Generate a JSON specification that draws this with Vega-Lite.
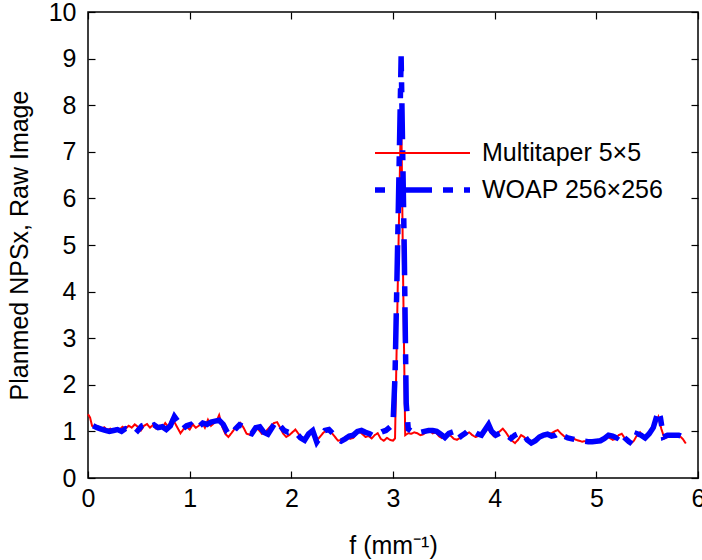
{
  "$schema": "https://vega.github.io/schema/vega-lite/v6.json",
  "width": 610,
  "height": 466,
  "autosize": {"type": "none"},
  "padding": {"left": 88, "top": 12, "right": 4, "bottom": 82},
  "background": "white",
  "config": {
    "font": "Liberation Sans",
    "view": {"stroke": "#000", "strokeWidth": 1.5},
    "axis": {
      "grid": false,
      "domain": false,
      "labelColor": "#000",
      "labelFont": "Liberation Sans",
      "labelFontSize": 25,
      "titleFont": "Liberation Sans",
      "titleFontSize": 25,
      "titleFontWeight": "normal",
      "titleColor": "#000",
      "labelOverlap": false,
      "labelFlush": false
    }
  },
  "data": {"values": [
    {"s":"Multitaper 5×5","f":0.00,"v":1.37},{"s":"Multitaper 5×5","f":0.02,"v":1.30},{"s":"Multitaper 5×5","f":0.04,"v":1.12},{"s":"Multitaper 5×5","f":0.07,"v":1.08},{"s":"Multitaper 5×5","f":0.10,"v":1.10},{"s":"Multitaper 5×5","f":0.13,"v":1.05},{"s":"Multitaper 5×5","f":0.16,"v":1.09},{"s":"Multitaper 5×5","f":0.19,"v":1.03},{"s":"Multitaper 5×5","f":0.22,"v":1.06},{"s":"Multitaper 5×5","f":0.25,"v":1.02},{"s":"Multitaper 5×5","f":0.28,"v":1.07},{"s":"Multitaper 5×5","f":0.31,"v":1.04},{"s":"Multitaper 5×5","f":0.34,"v":1.10},{"s":"Multitaper 5×5","f":0.37,"v":1.06},{"s":"Multitaper 5×5","f":0.40,"v":1.12},{"s":"Multitaper 5×5","f":0.43,"v":1.08},{"s":"Multitaper 5×5","f":0.46,"v":1.15},{"s":"Multitaper 5×5","f":0.49,"v":1.10},{"s":"Multitaper 5×5","f":0.52,"v":1.02},{"s":"Multitaper 5×5","f":0.55,"v":1.12},{"s":"Multitaper 5×5","f":0.58,"v":1.16},{"s":"Multitaper 5×5","f":0.61,"v":1.08},{"s":"Multitaper 5×5","f":0.64,"v":1.14},{"s":"Multitaper 5×5","f":0.67,"v":1.06},{"s":"Multitaper 5×5","f":0.70,"v":1.12},{"s":"Multitaper 5×5","f":0.73,"v":1.08},{"s":"Multitaper 5×5","f":0.76,"v":1.18},{"s":"Multitaper 5×5","f":0.79,"v":1.10},{"s":"Multitaper 5×5","f":0.82,"v":1.25},{"s":"Multitaper 5×5","f":0.85,"v":1.20},{"s":"Multitaper 5×5","f":0.88,"v":1.08},{"s":"Multitaper 5×5","f":0.91,"v":0.96},{"s":"Multitaper 5×5","f":0.94,"v":1.05},{"s":"Multitaper 5×5","f":0.97,"v":1.10},{"s":"Multitaper 5×5","f":1.00,"v":1.04},{"s":"Multitaper 5×5","f":1.03,"v":1.15},{"s":"Multitaper 5×5","f":1.06,"v":1.08},{"s":"Multitaper 5×5","f":1.09,"v":1.12},{"s":"Multitaper 5×5","f":1.12,"v":1.20},{"s":"Multitaper 5×5","f":1.15,"v":1.08},{"s":"Multitaper 5×5","f":1.18,"v":1.25},{"s":"Multitaper 5×5","f":1.21,"v":1.12},{"s":"Multitaper 5×5","f":1.24,"v":1.18},{"s":"Multitaper 5×5","f":1.27,"v":1.25},{"s":"Multitaper 5×5","f":1.29,"v":1.35},{"s":"Multitaper 5×5","f":1.32,"v":1.10},{"s":"Multitaper 5×5","f":1.35,"v":0.95},{"s":"Multitaper 5×5","f":1.38,"v":0.88},{"s":"Multitaper 5×5","f":1.41,"v":0.96},{"s":"Multitaper 5×5","f":1.44,"v":1.05},{"s":"Multitaper 5×5","f":1.47,"v":1.10},{"s":"Multitaper 5×5","f":1.50,"v":1.18},{"s":"Multitaper 5×5","f":1.53,"v":1.08},{"s":"Multitaper 5×5","f":1.56,"v":0.95},{"s":"Multitaper 5×5","f":1.59,"v":0.93},{"s":"Multitaper 5×5","f":1.62,"v":1.02},{"s":"Multitaper 5×5","f":1.65,"v":1.08},{"s":"Multitaper 5×5","f":1.68,"v":1.03},{"s":"Multitaper 5×5","f":1.71,"v":0.95},{"s":"Multitaper 5×5","f":1.74,"v":0.98},{"s":"Multitaper 5×5","f":1.77,"v":1.05},{"s":"Multitaper 5×5","f":1.80,"v":1.12},{"s":"Multitaper 5×5","f":1.83,"v":1.18},{"s":"Multitaper 5×5","f":1.86,"v":1.20},{"s":"Multitaper 5×5","f":1.89,"v":1.08},{"s":"Multitaper 5×5","f":1.92,"v":0.95},{"s":"Multitaper 5×5","f":1.95,"v":0.88},{"s":"Multitaper 5×5","f":1.98,"v":0.92},{"s":"Multitaper 5×5","f":2.01,"v":0.98},{"s":"Multitaper 5×5","f":2.04,"v":1.04},{"s":"Multitaper 5×5","f":2.07,"v":0.95},{"s":"Multitaper 5×5","f":2.10,"v":0.85},{"s":"Multitaper 5×5","f":2.13,"v":0.82},{"s":"Multitaper 5×5","f":2.16,"v":0.95},{"s":"Multitaper 5×5","f":2.19,"v":1.02},{"s":"Multitaper 5×5","f":2.22,"v":0.90},{"s":"Multitaper 5×5","f":2.25,"v":0.80},{"s":"Multitaper 5×5","f":2.28,"v":0.88},{"s":"Multitaper 5×5","f":2.31,"v":0.96},{"s":"Multitaper 5×5","f":2.34,"v":1.02},{"s":"Multitaper 5×5","f":2.37,"v":1.00},{"s":"Multitaper 5×5","f":2.40,"v":0.96},{"s":"Multitaper 5×5","f":2.43,"v":0.88},{"s":"Multitaper 5×5","f":2.46,"v":0.80},{"s":"Multitaper 5×5","f":2.49,"v":0.82},{"s":"Multitaper 5×5","f":2.52,"v":0.86},{"s":"Multitaper 5×5","f":2.55,"v":0.90},{"s":"Multitaper 5×5","f":2.58,"v":0.84},{"s":"Multitaper 5×5","f":2.61,"v":0.86},{"s":"Multitaper 5×5","f":2.64,"v":0.95},{"s":"Multitaper 5×5","f":2.67,"v":1.00},{"s":"Multitaper 5×5","f":2.70,"v":0.94},{"s":"Multitaper 5×5","f":2.73,"v":0.88},{"s":"Multitaper 5×5","f":2.76,"v":0.90},{"s":"Multitaper 5×5","f":2.79,"v":0.85},{"s":"Multitaper 5×5","f":2.82,"v":0.92},{"s":"Multitaper 5×5","f":2.85,"v":0.96},{"s":"Multitaper 5×5","f":2.88,"v":0.84},{"s":"Multitaper 5×5","f":2.91,"v":0.80},{"s":"Multitaper 5×5","f":2.94,"v":0.86},{"s":"Multitaper 5×5","f":2.97,"v":0.82},{"s":"Multitaper 5×5","f":3.00,"v":0.80},{"s":"Multitaper 5×5","f":3.02,"v":0.85},{"s":"Multitaper 5×5","f":3.05,"v":4.5},{"s":"Multitaper 5×5","f":3.08,"v":8.03},{"s":"Multitaper 5×5","f":3.10,"v":4.2},{"s":"Multitaper 5×5","f":3.12,"v":0.92},{"s":"Multitaper 5×5","f":3.15,"v":0.96},{"s":"Multitaper 5×5","f":3.18,"v":0.95},{"s":"Multitaper 5×5","f":3.21,"v":0.98},{"s":"Multitaper 5×5","f":3.24,"v":0.96},{"s":"Multitaper 5×5","f":3.27,"v":0.92},{"s":"Multitaper 5×5","f":3.30,"v":0.94},{"s":"Multitaper 5×5","f":3.33,"v":0.99},{"s":"Multitaper 5×5","f":3.36,"v":1.02},{"s":"Multitaper 5×5","f":3.39,"v":0.96},{"s":"Multitaper 5×5","f":3.42,"v":0.98},{"s":"Multitaper 5×5","f":3.45,"v":0.90},{"s":"Multitaper 5×5","f":3.48,"v":0.86},{"s":"Multitaper 5×5","f":3.51,"v":0.92},{"s":"Multitaper 5×5","f":3.54,"v":0.96},{"s":"Multitaper 5×5","f":3.57,"v":0.90},{"s":"Multitaper 5×5","f":3.60,"v":0.84},{"s":"Multitaper 5×5","f":3.63,"v":0.82},{"s":"Multitaper 5×5","f":3.66,"v":0.86},{"s":"Multitaper 5×5","f":3.69,"v":0.90},{"s":"Multitaper 5×5","f":3.72,"v":0.95},{"s":"Multitaper 5×5","f":3.75,"v":0.98},{"s":"Multitaper 5×5","f":3.78,"v":0.92},{"s":"Multitaper 5×5","f":3.81,"v":0.88},{"s":"Multitaper 5×5","f":3.84,"v":0.90},{"s":"Multitaper 5×5","f":3.87,"v":0.94},{"s":"Multitaper 5×5","f":3.90,"v":1.00},{"s":"Multitaper 5×5","f":3.93,"v":1.06},{"s":"Multitaper 5×5","f":3.96,"v":0.98},{"s":"Multitaper 5×5","f":3.99,"v":0.90},{"s":"Multitaper 5×5","f":4.02,"v":0.95},{"s":"Multitaper 5×5","f":4.05,"v":1.00},{"s":"Multitaper 5×5","f":4.08,"v":1.06},{"s":"Multitaper 5×5","f":4.11,"v":0.98},{"s":"Multitaper 5×5","f":4.14,"v":0.88},{"s":"Multitaper 5×5","f":4.17,"v":0.80},{"s":"Multitaper 5×5","f":4.20,"v":0.75},{"s":"Multitaper 5×5","f":4.23,"v":0.82},{"s":"Multitaper 5×5","f":4.26,"v":0.92},{"s":"Multitaper 5×5","f":4.29,"v":0.88},{"s":"Multitaper 5×5","f":4.32,"v":0.80},{"s":"Multitaper 5×5","f":4.35,"v":0.76},{"s":"Multitaper 5×5","f":4.38,"v":0.80},{"s":"Multitaper 5×5","f":4.41,"v":0.86},{"s":"Multitaper 5×5","f":4.44,"v":0.88},{"s":"Multitaper 5×5","f":4.47,"v":0.92},{"s":"Multitaper 5×5","f":4.50,"v":0.90},{"s":"Multitaper 5×5","f":4.53,"v":0.94},{"s":"Multitaper 5×5","f":4.56,"v":0.96},{"s":"Multitaper 5×5","f":4.59,"v":1.00},{"s":"Multitaper 5×5","f":4.62,"v":1.03},{"s":"Multitaper 5×5","f":4.65,"v":0.96},{"s":"Multitaper 5×5","f":4.68,"v":0.90},{"s":"Multitaper 5×5","f":4.71,"v":0.86},{"s":"Multitaper 5×5","f":4.74,"v":0.84},{"s":"Multitaper 5×5","f":4.77,"v":0.85},{"s":"Multitaper 5×5","f":4.80,"v":0.82},{"s":"Multitaper 5×5","f":4.83,"v":0.80},{"s":"Multitaper 5×5","f":4.86,"v":0.78},{"s":"Multitaper 5×5","f":4.89,"v":0.79},{"s":"Multitaper 5×5","f":4.92,"v":0.76},{"s":"Multitaper 5×5","f":4.95,"v":0.78},{"s":"Multitaper 5×5","f":4.98,"v":0.76},{"s":"Multitaper 5×5","f":5.01,"v":0.78},{"s":"Multitaper 5×5","f":5.04,"v":0.80},{"s":"Multitaper 5×5","f":5.07,"v":0.84},{"s":"Multitaper 5×5","f":5.10,"v":0.90},{"s":"Multitaper 5×5","f":5.13,"v":0.86},{"s":"Multitaper 5×5","f":5.16,"v":0.82},{"s":"Multitaper 5×5","f":5.19,"v":0.84},{"s":"Multitaper 5×5","f":5.22,"v":0.92},{"s":"Multitaper 5×5","f":5.25,"v":0.95},{"s":"Multitaper 5×5","f":5.28,"v":0.85},{"s":"Multitaper 5×5","f":5.31,"v":0.76},{"s":"Multitaper 5×5","f":5.34,"v":0.74},{"s":"Multitaper 5×5","f":5.37,"v":0.80},{"s":"Multitaper 5×5","f":5.40,"v":0.92},{"s":"Multitaper 5×5","f":5.43,"v":0.98},{"s":"Multitaper 5×5","f":5.46,"v":0.88},{"s":"Multitaper 5×5","f":5.49,"v":0.84},{"s":"Multitaper 5×5","f":5.52,"v":0.92},{"s":"Multitaper 5×5","f":5.55,"v":1.02},{"s":"Multitaper 5×5","f":5.58,"v":1.15},{"s":"Multitaper 5×5","f":5.61,"v":1.31},{"s":"Multitaper 5×5","f":5.64,"v":1.05},{"s":"Multitaper 5×5","f":5.67,"v":0.85},{"s":"Multitaper 5×5","f":5.70,"v":0.88},{"s":"Multitaper 5×5","f":5.73,"v":0.92},{"s":"Multitaper 5×5","f":5.76,"v":0.90},{"s":"Multitaper 5×5","f":5.79,"v":0.92},{"s":"Multitaper 5×5","f":5.82,"v":0.90},{"s":"Multitaper 5×5","f":5.85,"v":0.84},{"s":"Multitaper 5×5","f":5.88,"v":0.74},
    {"s":"WOAP 256×256","f":0.05,"v":1.12},{"s":"WOAP 256×256","f":0.09,"v":1.08},{"s":"WOAP 256×256","f":0.13,"v":1.05},{"s":"WOAP 256×256","f":0.17,"v":1.02},{"s":"WOAP 256×256","f":0.21,"v":1.00},{"s":"WOAP 256×256","f":0.25,"v":1.02},{"s":"WOAP 256×256","f":0.29,"v":1.04},{"s":"WOAP 256×256","f":0.33,"v":1.00},{"s":"WOAP 256×256","f":0.37,"v":1.06},{"s":"WOAP 256×256","f":0.41,"v":1.04},{"s":"WOAP 256×256","f":0.45,"v":1.10},{"s":"WOAP 256×256","f":0.49,"v":1.02},{"s":"WOAP 256×256","f":0.53,"v":1.12},{"s":"WOAP 256×256","f":0.57,"v":1.15},{"s":"WOAP 256×256","f":0.61,"v":1.10},{"s":"WOAP 256×256","f":0.65,"v":1.14},{"s":"WOAP 256×256","f":0.69,"v":1.08},{"s":"WOAP 256×256","f":0.73,"v":1.10},{"s":"WOAP 256×256","f":0.77,"v":1.04},{"s":"WOAP 256×256","f":0.81,"v":1.12},{"s":"WOAP 256×256","f":0.85,"v":1.32},{"s":"WOAP 256×256","f":0.89,"v":1.20},{"s":"WOAP 256×256","f":0.93,"v":1.05},{"s":"WOAP 256×256","f":0.97,"v":1.12},{"s":"WOAP 256×256","f":1.01,"v":1.15},{"s":"WOAP 256×256","f":1.05,"v":1.05},{"s":"WOAP 256×256","f":1.09,"v":1.10},{"s":"WOAP 256×256","f":1.13,"v":1.18},{"s":"WOAP 256×256","f":1.17,"v":1.15},{"s":"WOAP 256×256","f":1.21,"v":1.20},{"s":"WOAP 256×256","f":1.25,"v":1.22},{"s":"WOAP 256×256","f":1.29,"v":1.24},{"s":"WOAP 256×256","f":1.33,"v":1.15},{"s":"WOAP 256×256","f":1.37,"v":0.98},{"s":"WOAP 256×256","f":1.41,"v":0.92},{"s":"WOAP 256×256","f":1.45,"v":1.05},{"s":"WOAP 256×256","f":1.49,"v":1.14},{"s":"WOAP 256×256","f":1.53,"v":1.10},{"s":"WOAP 256×256","f":1.57,"v":0.98},{"s":"WOAP 256×256","f":1.61,"v":0.95},{"s":"WOAP 256×256","f":1.65,"v":1.08},{"s":"WOAP 256×256","f":1.69,"v":1.10},{"s":"WOAP 256×256","f":1.73,"v":0.98},{"s":"WOAP 256×256","f":1.77,"v":0.94},{"s":"WOAP 256×256","f":1.81,"v":1.08},{"s":"WOAP 256×256","f":1.85,"v":1.22},{"s":"WOAP 256×256","f":1.89,"v":1.12},{"s":"WOAP 256×256","f":1.93,"v":1.02},{"s":"WOAP 256×256","f":1.97,"v":0.98},{"s":"WOAP 256×256","f":2.01,"v":1.00},{"s":"WOAP 256×256","f":2.05,"v":0.96},{"s":"WOAP 256×256","f":2.09,"v":0.86},{"s":"WOAP 256×256","f":2.13,"v":0.81},{"s":"WOAP 256×256","f":2.17,"v":0.95},{"s":"WOAP 256×256","f":2.21,"v":1.02},{"s":"WOAP 256×256","f":2.25,"v":0.77},{"s":"WOAP 256×256","f":2.29,"v":0.90},{"s":"WOAP 256×256","f":2.33,"v":1.02},{"s":"WOAP 256×256","f":2.37,"v":1.04},{"s":"WOAP 256×256","f":2.41,"v":0.95},{"s":"WOAP 256×256","f":2.45,"v":0.84},{"s":"WOAP 256×256","f":2.49,"v":0.79},{"s":"WOAP 256×256","f":2.53,"v":0.84},{"s":"WOAP 256×256","f":2.57,"v":0.90},{"s":"WOAP 256×256","f":2.61,"v":0.92},{"s":"WOAP 256×256","f":2.65,"v":1.00},{"s":"WOAP 256×256","f":2.69,"v":1.02},{"s":"WOAP 256×256","f":2.73,"v":0.98},{"s":"WOAP 256×256","f":2.77,"v":0.95},{"s":"WOAP 256×256","f":2.81,"v":0.90},{"s":"WOAP 256×256","f":2.85,"v":0.94},{"s":"WOAP 256×256","f":2.89,"v":0.99},{"s":"WOAP 256×256","f":2.93,"v":1.02},{"s":"WOAP 256×256","f":2.97,"v":1.09},{"s":"WOAP 256×256","f":3.00,"v":1.15},{"s":"WOAP 256×256","f":3.02,"v":2.2},{"s":"WOAP 256×256","f":3.05,"v":5.5},{"s":"WOAP 256×256","f":3.08,"v":9.05},{"s":"WOAP 256×256","f":3.11,"v":5.0},{"s":"WOAP 256×256","f":3.13,"v":1.6},{"s":"WOAP 256×256","f":3.15,"v":1.05},{"s":"WOAP 256×256","f":3.19,"v":0.99},{"s":"WOAP 256×256","f":3.23,"v":0.97},{"s":"WOAP 256×256","f":3.27,"v":0.98},{"s":"WOAP 256×256","f":3.31,"v":1.00},{"s":"WOAP 256×256","f":3.35,"v":1.02},{"s":"WOAP 256×256","f":3.39,"v":1.02},{"s":"WOAP 256×256","f":3.43,"v":1.00},{"s":"WOAP 256×256","f":3.47,"v":0.94},{"s":"WOAP 256×256","f":3.51,"v":0.87},{"s":"WOAP 256×256","f":3.55,"v":0.96},{"s":"WOAP 256×256","f":3.59,"v":0.99},{"s":"WOAP 256×256","f":3.63,"v":0.83},{"s":"WOAP 256×256","f":3.67,"v":0.90},{"s":"WOAP 256×256","f":3.71,"v":0.96},{"s":"WOAP 256×256","f":3.75,"v":1.04},{"s":"WOAP 256×256","f":3.79,"v":1.00},{"s":"WOAP 256×256","f":3.83,"v":0.95},{"s":"WOAP 256×256","f":3.87,"v":0.92},{"s":"WOAP 256×256","f":3.91,"v":1.05},{"s":"WOAP 256×256","f":3.94,"v":1.15},{"s":"WOAP 256×256","f":3.97,"v":1.00},{"s":"WOAP 256×256","f":4.01,"v":0.92},{"s":"WOAP 256×256","f":4.05,"v":0.96},{"s":"WOAP 256×256","f":4.09,"v":0.98},{"s":"WOAP 256×256","f":4.13,"v":0.90},{"s":"WOAP 256×256","f":4.16,"v":0.85},{"s":"WOAP 256×256","f":4.20,"v":0.92},{"s":"WOAP 256×256","f":4.24,"v":0.96},{"s":"WOAP 256×256","f":4.28,"v":0.95},{"s":"WOAP 256×256","f":4.32,"v":0.82},{"s":"WOAP 256×256","f":4.36,"v":0.75},{"s":"WOAP 256×256","f":4.40,"v":0.80},{"s":"WOAP 256×256","f":4.44,"v":0.88},{"s":"WOAP 256×256","f":4.48,"v":0.92},{"s":"WOAP 256×256","f":4.52,"v":0.94},{"s":"WOAP 256×256","f":4.56,"v":0.90},{"s":"WOAP 256×256","f":4.60,"v":0.92},{"s":"WOAP 256×256","f":4.64,"v":0.98},{"s":"WOAP 256×256","f":4.68,"v":0.90},{"s":"WOAP 256×256","f":4.72,"v":0.86},{"s":"WOAP 256×256","f":4.76,"v":0.84},{"s":"WOAP 256×256","f":4.80,"v":0.82},{"s":"WOAP 256×256","f":4.84,"v":0.80},{"s":"WOAP 256×256","f":4.88,"v":0.79},{"s":"WOAP 256×256","f":4.92,"v":0.78},{"s":"WOAP 256×256","f":4.96,"v":0.78},{"s":"WOAP 256×256","f":5.00,"v":0.79},{"s":"WOAP 256×256","f":5.04,"v":0.80},{"s":"WOAP 256×256","f":5.08,"v":0.85},{"s":"WOAP 256×256","f":5.12,"v":0.92},{"s":"WOAP 256×256","f":5.16,"v":0.90},{"s":"WOAP 256×256","f":5.20,"v":0.86},{"s":"WOAP 256×256","f":5.24,"v":0.98},{"s":"WOAP 256×256","f":5.28,"v":0.86},{"s":"WOAP 256×256","f":5.32,"v":0.78},{"s":"WOAP 256×256","f":5.36,"v":0.72},{"s":"WOAP 256×256","f":5.40,"v":0.95},{"s":"WOAP 256×256","f":5.44,"v":0.92},{"s":"WOAP 256×256","f":5.48,"v":0.86},{"s":"WOAP 256×256","f":5.52,"v":0.95},{"s":"WOAP 256×256","f":5.56,"v":1.08},{"s":"WOAP 256×256","f":5.59,"v":1.30},{"s":"WOAP 256×256","f":5.61,"v":1.44},{"s":"WOAP 256×256","f":5.63,"v":1.30},{"s":"WOAP 256×256","f":5.66,"v":0.88},{"s":"WOAP 256×256","f":5.70,"v":0.92},{"s":"WOAP 256×256","f":5.74,"v":0.92},{"s":"WOAP 256×256","f":5.78,"v":0.92},{"s":"WOAP 256×256","f":5.81,"v":0.92},{"s":"WOAP 256×256","f":5.83,"v":0.90}
  ]},
  "layer": [
    {
      "mark": {"type": "line", "strokeCap": "butt", "strokeJoin": "miter"},
      "encoding": {
        "x": {"field": "f", "type": "quantitative", "scale": {"domain": [0, 6], "nice": false, "zero": false},
              "axis": {"orient": "bottom", "values": [0,1,2,3,4,5,6], "ticks": true, "tickSize": 7, "offset": -7, "tickColor": "#000000", "tickWidth": 1.2, "tickOpacity": 1, "zindex": 3,
                       "labelPadding": 8, "title": "f (mm⁻¹)", "titlePadding": 22}},
        "y": {"field": "v", "type": "quantitative", "scale": {"domain": [0, 10], "nice": false},
              "axis": {"orient": "left", "values": [0,1,2,3,4,5,6,7,8,9,10], "ticks": true, "tickSize": 7, "offset": -7, "tickColor": "#000000", "tickWidth": 1.2, "tickOpacity": 1, "zindex": 3,
                       "labelPadding": 12, "title": "Planmed NPSx, Raw Image", "titlePadding": 16}},
        "color": {"field": "s", "type": "nominal",
                  "scale": {"domain": ["Multitaper 5×5", "WOAP 256×256"], "range": ["#ff0000", "#0000ff"]},
                  "legend": {"orient": "none", "legendX": 287, "legendY": 126, "title": null, "padding": 0,
                             "symbolType": "stroke", "symbolSize": 9025, "labelFontSize": 25, "labelFont": "Liberation Sans",
                             "labelColor": "#000", "labelLimit": 0, "rowPadding": 9,
                             "encode": {
                               "symbols": {"update": {"x": {"value": 47.5}, "y": {"value": 15}, "strokeDashOffset": {"value": 47}}},
                               "labels": {"update": {"x": {"value": 107}, "y": {"value": 15}}}
                             }}},
        "strokeDash": {"field": "s", "type": "nominal",
                       "scale": {"domain": ["Multitaper 5×5", "WOAP 256×256"], "range": [[1, 0], [36, 11, 10, 11]]}},
        "strokeWidth": {"field": "s", "type": "nominal",
                        "scale": {"domain": ["Multitaper 5×5", "WOAP 256×256"], "range": [2, 5.5]}}
      }
    },
    {
      "mark": {"type": "line", "opacity": 0},
      "encoding": {
        "x": {"field": "f", "type": "quantitative", "scale": {"domain": [0, 6], "nice": false, "zero": false},
              "axis": {"orient": "top", "values": [0,1,2,3,4,5,6], "ticks": true, "tickSize": 7, "offset": -7, "tickColor": "#000000", "tickWidth": 1.2, "tickOpacity": 1, "zindex": 3, "labels": false, "title": null}},
        "y": {"field": "v", "type": "quantitative", "scale": {"domain": [0, 10], "nice": false},
              "axis": {"orient": "right", "values": [0,1,2,3,4,5,6,7,8,9,10], "ticks": true, "tickSize": 7, "offset": -7, "tickColor": "#000000", "tickWidth": 1.2, "tickOpacity": 1, "zindex": 3, "labels": false, "title": null}}
      }
    }
  ],
  "resolve": {"axis": {"x": "independent", "y": "independent"}}
}
